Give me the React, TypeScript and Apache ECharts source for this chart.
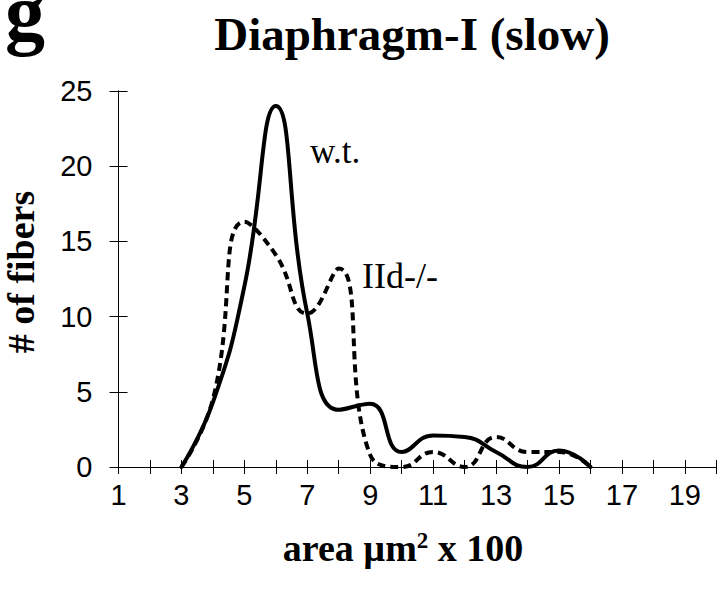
import React, { useEffect, useRef } from 'react';
import * as echarts from 'echarts';

// area bins (x 100 µm²)
const xValues = [3, 4, 5, 6, 7, 8, 9, 10, 11, 12, 13, 14, 15, 16];
// wild type (solid)
const wtValues = [0, 4.3, 12, 24, 10.2, 3.8, 4.2, 1, 2.1, 2.0, 1, 0, 1.1, 0];
// IId-/- (dashed)
const iidValues = [0, 4.5, 16.3, 14.1, 10.2, 13.2, 0.8, 0, 1, 0, 2, 1, 1, 0];
const xTickLabels = ['1', '3', '5', '7', '9', '11', '13', '15', '17', '19'];
const yTickLabels = ['0', '5', '10', '15', '20', '25'];

const SERIF = '"Liberation Serif", "DejaVu Serif", serif';
const SANS = '"Liberation Sans", Arial, sans-serif';

export default function App() {
  const ref = useRef<HTMLDivElement>(null);
  useEffect(() => {
    const chart = echarts.init(ref.current!, null, { renderer: 'svg' });
    const axisLine = { show: true, lineStyle: { color: '#000', width: 1 } };
    chart.setOption({
      animation: false,
      backgroundColor: '#fff',
      grid: { left: 118.5, right: 3.7, top: 91, bottom: 124, outerBoundsMode: 'none' },
      xAxis: [
        {
          type: 'value', min: 1, max: 20, interval: 1,
          axisLine, splitLine: { show: false },
          axisTick: { show: true, inside: false, length: 7, lineStyle: { color: '#000' } },
          axisLabel: {
            margin: 13, fontSize: 29, fontFamily: SANS, color: '#000',
            formatter: (v: number) => (xTickLabels.includes(String(v)) ? String(v) : ''),
          },
        },
        {
          type: 'value', min: 1, max: 20, interval: 1, position: 'bottom',
          axisLine, splitLine: { show: false },
          axisTick: { show: true, inside: true, length: 7, lineStyle: { color: '#000' } },
          axisLabel: { show: false },
        },
      ],
      yAxis: [
        {
          type: 'value', min: 0, max: 25, interval: 5,
          axisLine, splitLine: { show: false },
          axisTick: { show: true, inside: false, length: 9, lineStyle: { color: '#000' } },
          axisLabel: {
            margin: 26, fontSize: 29, fontFamily: SANS, color: '#000',
            formatter: (v: number) => (yTickLabels.includes(String(v)) ? String(v) : ''),
          },
        },
        {
          type: 'value', min: 0, max: 25, interval: 5, position: 'left',
          axisLine, splitLine: { show: false },
          axisTick: { show: true, inside: true, length: 9, lineStyle: { color: '#000' } },
          axisLabel: { show: false },
        },
      ],
      series: [
        {
          name: 'w.t.', type: 'line', xAxisIndex: 0, yAxisIndex: 0,
          data: xValues.map((x, i) => [x, wtValues[i]]),
          smooth: 0.5, showSymbol: false, z: 3,
          lineStyle: { color: '#000', width: 4, cap: 'round', join: 'round' },
        },
        {
          name: 'IId-/-', type: 'line', xAxisIndex: 0, yAxisIndex: 0,
          data: xValues.map((x, i) => [x, iidValues[i]]),
          smooth: 0.5, showSymbol: false, z: 2,
          lineStyle: { color: '#000', width: 4, type: [8, 5] },
        },
      ],
      graphic: [
        {
          type: 'text', x: 25, y: 13,
          style: { text: 'g', font: `bold 80px ${SERIF}`, lineHeight: 24, fill: '#000', align: 'center', verticalAlign: 'middle' },
        },
        {
          type: 'text', x: 412, y: 34,
          style: { text: 'Diaphragm-I (slow)', font: `bold 47px ${SERIF}`, fill: '#000', align: 'center', verticalAlign: 'middle' },
        },
        {
          type: 'text', x: 21, y: 272, rotation: Math.PI / 2,
          style: { text: '# of fibers', font: `bold 38px ${SERIF}`, fill: '#000', align: 'center', verticalAlign: 'middle' },
        },
        {
          type: 'text', x: 403, y: 548,
          style: {
            text: '{a|area µm}{s|2}{a| x 100}',
            align: 'center', verticalAlign: 'middle', fill: '#000',
            rich: {
              a: { fontSize: 38, fontWeight: 'bold', fontFamily: SERIF, fill: '#000' },
              s: { fontSize: 23, fontWeight: 'bold', fontFamily: SERIF, fill: '#000', verticalAlign: 'top', padding: [0, 0, 14, 0] },
            },
          },
        },
        {
          type: 'text', x: 310, y: 151,
          style: { text: 'w.t.', font: `35px ${SERIF}`, fill: '#000', align: 'left', verticalAlign: 'middle' },
        },
        {
          type: 'text', x: 362, y: 276,
          style: { text: 'IId-/-', font: `36px ${SERIF}`, fill: '#000', align: 'left', verticalAlign: 'middle' },
        },
      ],
    });
    return () => chart.dispose();
  }, []);
  return <div ref={ref} style={{ position: 'absolute', left: 0, top: 0, width: 720, height: 591 }} />;
}
